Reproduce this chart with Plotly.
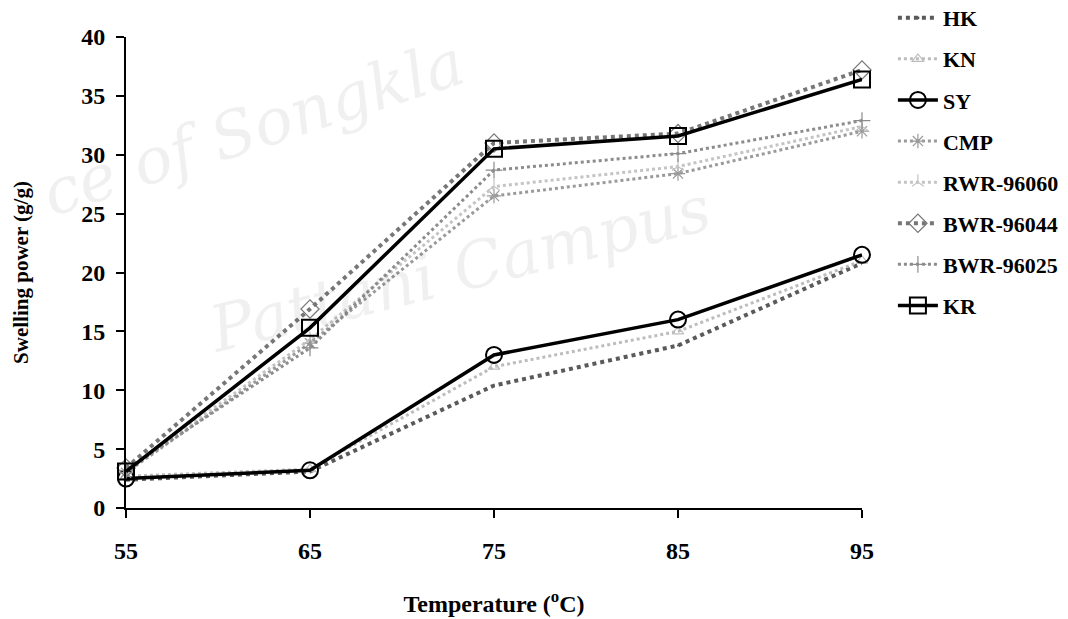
import plotly.graph_objects as go

temps = [55, 65, 75, 85, 95]

HK = [2.4, 3.1, 10.4, 13.8, 20.8]
KN = [2.7, 3.3, 12.0, 15.0, 21.0]
SY = [2.5, 3.2, 13.0, 16.0, 21.5]
CMP = [3.0, 14.0, 26.5, 28.4, 32.0]
RWR_96060 = [3.2, 14.3, 27.3, 29.0, 32.4]
BWR_96044 = [3.4, 16.9, 31.0, 31.8, 37.2]
BWR_96025 = [3.2, 13.6, 28.7, 30.1, 32.9]
KR = [3.1, 15.3, 30.5, 31.6, 36.4]

names = ["HK", "KN", "SY", "CMP", "RWR-96060", "BWR-96044", "BWR-96025", "KR"]
values = [HK, KN, SY, CMP, RWR_96060, BWR_96044, BWR_96025, KR]
colors = ["#5a5a5a", "#bdbdbd", "#000000", "#9a9a9a", "#c4c4c4", "#777777", "#8c8c8c", "#000000"]
widths = [4, 3, 3.5, 3, 3, 4, 3, 3.5]
dashes = ["dot", "dot", "solid", "dot", "dot", "dot", "dot", "solid"]
symbols = ["circle", "triangle-up-open", "circle-open", "asterisk-open", "y-up-open",
           "diamond-open", "cross-thin-open", "square-open"]
msizes = [1, 10, 16, 12, 10, 14, 12, 16]

fig = go.Figure()
for i, (n, v) in enumerate(zip(names, values)):
    fig.add_trace(go.Scatter(
        x=temps, y=v, name=n, mode="lines+markers",
        legendgroup=n,
        line=dict(color=colors[i], width=widths[i], dash=dashes[i]),
        marker=dict(symbol=symbols[i], size=msizes[i], color=colors[i],
                    line=dict(width=2 if i in (2, 7) else 1.2, color=colors[i])),
        cliponaxis=False,
    ))

font_main = "Liberation Serif, Times New Roman, serif"

fig.update_layout(
    width=1068, height=619,
    margin=dict(l=126, r=206, t=37, b=111, autoexpand=False),
    paper_bgcolor="white", plot_bgcolor="white",
    font=dict(family=font_main, color="black"),
    showlegend=True,
    legend=dict(x=1.042, y=1.085, xanchor="left", yanchor="top",
                font=dict(family=font_main, size=22, color="black", weight="bold"),
                tracegroupgap=9.5, itemwidth=40, bgcolor="rgba(0,0,0,0)",
                maxheight=600),
    xaxis=dict(range=[55, 95], tickvals=temps, showgrid=False, zeroline=False,
               showline=True, linecolor="black", linewidth=2, automargin=False,
               ticks="outside", ticklen=8, tickwidth=2, tickcolor="black",
               ticklabelstandoff=12,
               tickfont=dict(family=font_main, size=24, color="black", weight="bold"),
               title=dict(text="Temperature (<sup>o</sup>C)", standoff=32,
                          font=dict(family=font_main, size=24, color="black", weight="bold"))),
    yaxis=dict(range=[0, 40], dtick=5, showgrid=False, zeroline=False,
               showline=True, linecolor="black", linewidth=2, automargin=False,
               ticks="outside", ticklen=8, tickwidth=2, tickcolor="black",
               ticklabelstandoff=6,
               tickfont=dict(family=font_main, size=24, color="black", weight="bold"),
               title=dict(text="Swelling power (g/g)", standoff=47,
                          font=dict(family=font_main, size=21, color="black", weight="bold"))),
)

fig.add_annotation(text="ce of Songkla", xref="paper", yref="paper", x=-0.13, y=1.03,
                   xanchor="left", showarrow=False, textangle=-18,
                   font=dict(family="DejaVu Serif", size=64, color="rgba(0,0,0,0.06)", style="italic"))
fig.add_annotation(text="Pattani Campus", xref="paper", yref="paper", x=0.1, y=0.72,
                   xanchor="left", showarrow=False, textangle=-14,
                   font=dict(family="DejaVu Serif", size=64, color="rgba(0,0,0,0.06)", style="italic"))

fig.write_html("out.html")
